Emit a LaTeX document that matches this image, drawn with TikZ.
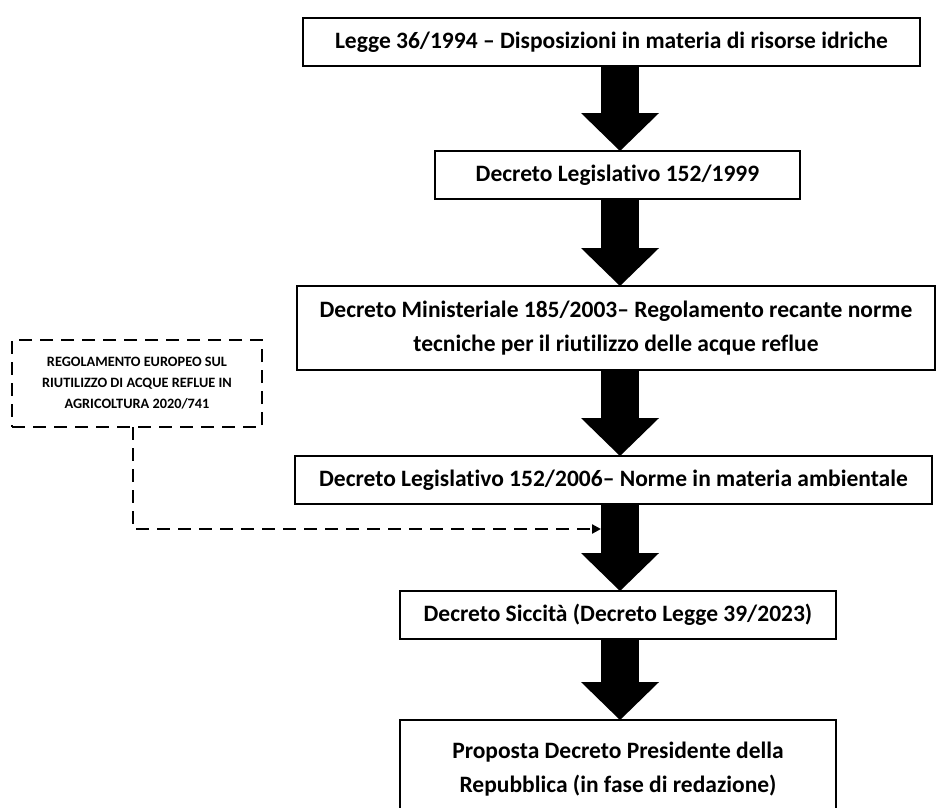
\documentclass[tikz,border=0pt]{standalone}
\usepackage{fontspec}
\setmainfont{Carlito}[Ligatures={TeX,NoCommon}]
\usetikzlibrary{arrows.meta, positioning, calc}
\tikzset{
    lawbox/.style={
        rectangle, draw=black, line width=2.5pt, outer sep=0pt,
        minimum height=48pt, align=center,
        fill=white, font=\fontsize{23.5}{34}\selectfont\bfseries
    },
    eubox/.style={
        rectangle, draw=black, line width=2.8pt, dash pattern=on 13pt off 8pt,
        minimum width=250pt, minimum height=87pt, align=center, outer sep=0pt,
        fill=white, font=\fontsize{14.3}{21}\selectfont\bfseries
    },
    bigarrow/.style={draw=black, line width=38pt, -{Triangle[width=78pt,length=38pt,line width=0pt]}},
    dashwire/.style={draw=black, line width=2.8pt, dash pattern=on 13pt off 8pt, -{Triangle[width=9pt,length=9pt]}}
}

\begin{document}
\begin{tikzpicture}
\useasboundingbox (0,0) rectangle (936pt,-807pt);

% Chain of laws
\node[lawbox, minimum width=617pt] (l1994) at (611.5pt,-42pt) {Legge 36/1994 – Disposizioni in materia di risorse idriche};
\node[lawbox, minimum width=365pt, below=85pt of l1994, xshift=6pt] (l1999) {Decreto Legislativo 152/1999};
\node[lawbox, minimum width=638pt, minimum height=84pt, below=87pt of l1999, xshift=-1.5pt] (l2003) {Decreto Ministeriale 185/2003– Regolamento recante norme\\tecniche per il riutilizzo delle acque reflue};
\node[lawbox, minimum width=637pt, below=86pt of l2003, xshift=-2.5pt] (l2006) {Decreto Legislativo 152/2006– Norme in materia ambientale};
\node[lawbox, minimum width=436pt, below=87pt of l2006, xshift=4.5pt] (l2023) {Decreto Siccità (Decreto Legge 39/2023)};
\node[lawbox, minimum width=436pt, minimum height=98pt, below=81pt of l2023] (dpr) {Proposta Decreto Presidente della\\Repubblica (in fase di redazione)};

% Big arrows
\coordinate (axis) at (620pt,0);
\draw[bigarrow] (l1994.south -| axis) -- (l1999.north -| axis);
\draw[bigarrow] (l1999.south -| axis) -- (l2003.north -| axis);
\draw[bigarrow] (l2003.south -| axis) -- (l2006.north -| axis);
\draw[bigarrow] (l2006.south -| axis) -- (l2023.north -| axis);
\draw[bigarrow] (l2023.south -| axis) -- (dpr.north -| axis);

% EU regulation
\node[eubox] (eureg) at (137pt,-383.5pt) {REGOLAMENTO EUROPEO SUL\\RIUTILIZZO DI ACQUE REFLUE IN\\AGRICOLTURA 2020/741};
\coordinate (joint) at ($(l2006.south -| axis)+(-19pt,-25pt)$);
\draw[dashwire] ([xshift=-4pt]eureg.south) |- (joint);

\end{tikzpicture}
\end{document}
